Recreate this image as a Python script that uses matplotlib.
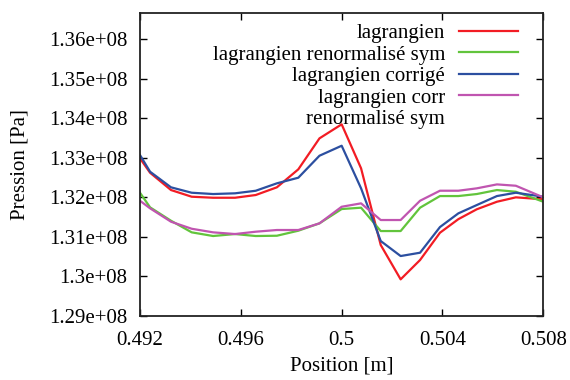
import matplotlib
matplotlib.use("Agg")
import matplotlib.pyplot as plt
from matplotlib.lines import Line2D
from matplotlib.ticker import FormatStrFormatter, MultipleLocator

plt.rcParams['font.family'] = ['Liberation Serif', 'DejaVu Serif']

# mesh positions (lagrangian mesh, not uniform)
position = [0.492, 0.4924, 0.49323, 0.49405, 0.4949, 0.49577, 0.49659,
            0.49743, 0.49828, 0.49912, 0.5, 0.50077, 0.50155, 0.50234,
            0.50311, 0.5039, 0.50463, 0.50536, 0.50616, 0.50691, 0.508]

p_lag = [1.3298e8, 1.32615e8, 1.32177e8, 1.32008e8, 1.31982e8, 1.31982e8,
         1.32051e8, 1.32246e8, 1.32701e8, 1.33486e8, 1.33841e8, 1.32727e8,
         1.30785e8, 1.29916e8, 1.30405e8, 1.31096e8, 1.31440e8, 1.31690e8,
         1.31881e8, 1.31992e8, 1.31942e8]

p_renorm_sym = [1.32109e8, 1.31739e8, 1.314e8, 1.31106e8, 1.31013e8, 1.31063e8,
                1.31013e8, 1.3102e8, 1.31147e8, 1.31334e8, 1.31696e8, 1.3173e8,
                1.31139e8, 1.31139e8, 1.3173e8, 1.32025e8, 1.32025e8, 1.32076e8,
                1.32177e8, 1.32134e8, 1.31881e8]

p_corr = [1.33063e8, 1.32641e8, 1.32246e8, 1.32109e8, 1.32076e8, 1.32094e8,
          1.32159e8, 1.32347e8, 1.32489e8, 1.33046e8, 1.33299e8, 1.3222e8,
          1.30886e8, 1.30506e8, 1.3059e8, 1.31240e8, 1.31587e8, 1.31797e8,
          1.32025e8, 1.32109e8, 1.32008e8]

p_corr_renorm = [1.31906e8, 1.31714e8, 1.31375e8, 1.31197e8, 1.31106e8, 1.31063e8,
                 1.31122e8, 1.31165e8, 1.31165e8, 1.31334e8, 1.31754e8, 1.3184e8,
                 1.31418e8, 1.31418e8, 1.31906e8, 1.3216e8, 1.3216e8, 1.3222e8,
                 1.3232e8, 1.32286e8, 1.31992e8]

# the last key title runs over two lines, the sample sits on the first one
labels = ['lagrangien', 'lagrangien renormalisé sym', 'lagrangien corrigé',
          'lagrangien corr', 'renormalisé sym']
colors = ['#f21c24', '#62c43c', '#2c4fa0', '#c055b0']
FS = 15

fig = plt.figure(figsize=(5.7, 3.8), dpi=100)
ax = fig.add_axes([0.2456, 0.1697, 0.9532 - 0.2456, 0.9658 - 0.1697])

handles = []
for series, c in zip([p_lag, p_renorm_sym, p_corr, p_corr_renorm], colors):
    line, = ax.plot(position, series, color=c, lw=1.6)
    handles.append(line)
handles.append(Line2D([], [], color='none'))

ax.set_xlim(0.492, 0.508)
ax.set_ylim(1.29e8, 1.3666e8)
ax.xaxis.set_major_locator(MultipleLocator(0.004))
ax.yaxis.set_major_locator(MultipleLocator(1e6))
ax.xaxis.set_major_formatter(FormatStrFormatter('%g'))
ax.yaxis.set_major_formatter(FormatStrFormatter('%g'))
ax.tick_params(direction='in', length=5, width=1, labelsize=FS,
               top=True, right=True, pad=9)
ax.tick_params(axis='x', pad=11)
for s in ax.spines.values():
    s.set_linewidth(1.3)
    s.set_color('#222222')

ax.set_xlabel('Position [m]', fontsize=FS, labelpad=5)
ax.set_ylabel('Pression [Pa]', fontsize=FS, labelpad=14)

ax.legend(handles, labels, loc='upper right', bbox_to_anchor=(0.9373, 0.965),
          markerfirst=False, frameon=False, fontsize=FS, handlelength=2.83,
          handletextpad=0.67, labelspacing=0.09, borderaxespad=0, borderpad=0)

fig.savefig('out.png', dpi=100)
